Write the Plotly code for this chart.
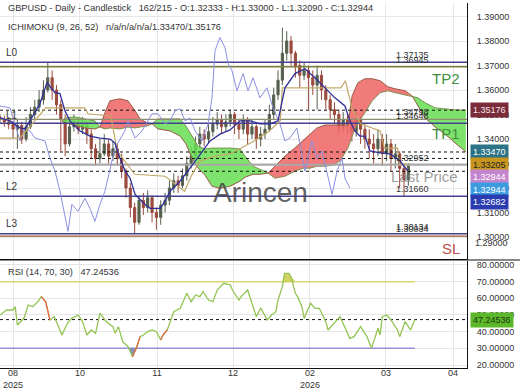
import plotly.graph_objects as go

# ---------------- data ----------------
bars = list(range(0, 189, 2))  # 95 daily candles (bar index)
closes = [1.3480, 1.3470, 1.3460, 1.3440, 1.3455, 1.3400, 1.3450, 1.3500, 1.3530, 1.3560,
          1.3600, 1.3650, 1.3600, 1.3540, 1.3480, 1.3380, 1.3450, 1.3470, 1.3440, 1.3460,
          1.3420, 1.3360, 1.3320, 1.3340, 1.3380, 1.3330, 1.3360, 1.3320, 1.3270, 1.3200,
          1.3120, 1.3060, 1.3150, 1.3120, 1.3160, 1.3100, 1.3080, 1.3130, 1.3150, 1.3200,
          1.3230, 1.3210, 1.3250, 1.3300, 1.3330, 1.3380, 1.3420, 1.3400, 1.3430, 1.3460,
          1.3480, 1.3450, 1.3470, 1.3500, 1.3460, 1.3440, 1.3480, 1.3420, 1.3450, 1.3400,
          1.3420, 1.3440, 1.3500, 1.3580, 1.3640, 1.3750, 1.3800, 1.3750, 1.3700, 1.3660,
          1.3680, 1.3650, 1.3620, 1.3660, 1.3600, 1.3560, 1.3520, 1.3500, 1.3450, 1.3480,
          1.3460, 1.3430, 1.3480, 1.3440, 1.3400, 1.3380, 1.3360, 1.3400, 1.3340, 1.3380,
          1.3320, 1.3340, 1.3280, 1.32333, 1.32944]
highs = [1.3500, 1.3495, 1.3490, 1.3475, 1.3480, 1.3470, 1.3490, 1.3530, 1.3560, 1.3600,
         1.3640, 1.3715, 1.3680, 1.3620, 1.3560, 1.3500, 1.3480, 1.3500, 1.3490, 1.3490,
         1.3470, 1.3440, 1.3380, 1.3400, 1.3420, 1.3400, 1.3390, 1.3380, 1.3340, 1.3280,
         1.3220, 1.3140, 1.3170, 1.3180, 1.3190, 1.3170, 1.3120, 1.3150, 1.3180, 1.3230,
         1.3260, 1.3250, 1.3280, 1.3330, 1.3370, 1.3410, 1.3450, 1.3440, 1.3460, 1.3490,
         1.3510, 1.3500, 1.3500, 1.3520, 1.3510, 1.3480, 1.3500, 1.3490, 1.3480, 1.3460,
         1.3450, 1.3480, 1.3540, 1.3610, 1.3680, 1.3855, 1.3840, 1.3820, 1.3760, 1.3720,
         1.3710, 1.3700, 1.3680, 1.3700, 1.3680, 1.3620, 1.3580, 1.3550, 1.3520, 1.3510,
         1.3500, 1.3480, 1.3510, 1.3490, 1.3460, 1.3440, 1.3420, 1.3440, 1.3420, 1.3420,
         1.3400, 1.3380, 1.3350, 1.3290, 1.33000]
lows = [1.3465, 1.3450, 1.3440, 1.3400, 1.3360, 1.3380, 1.3390, 1.3440, 1.3480, 1.3510,
        1.3540, 1.3590, 1.3560, 1.3500, 1.3350, 1.3330, 1.3370, 1.3430, 1.3420, 1.3420,
        1.3380, 1.3320, 1.3290, 1.3300, 1.3330, 1.3300, 1.3310, 1.3290, 1.3240, 1.3160,
        1.3080, 1.3012, 1.3050, 1.3090, 1.3100, 1.3060, 1.3030, 1.3050, 1.3100, 1.3130,
        1.3180, 1.3180, 1.3200, 1.3230, 1.3280, 1.3320, 1.3360, 1.3370, 1.3380, 1.3410,
        1.3440, 1.3420, 1.3430, 1.3450, 1.3420, 1.3400, 1.3420, 1.3380, 1.3400, 1.3360,
        1.3370, 1.3400, 1.3430, 1.3480, 1.3560, 1.3620, 1.3720, 1.3700, 1.3650, 1.3610,
        1.3640, 1.3520, 1.3580, 1.3520, 1.3560, 1.3520, 1.3480, 1.3460, 1.3420, 1.3430,
        1.3420, 1.3390, 1.3410, 1.3380, 1.3360, 1.3320, 1.3300, 1.3330, 1.3290, 1.3310,
        1.3270, 1.3280, 1.3200, 1.3166, 1.32090]
first_open = 1.3490

tenkan_x = [0, 4.6, 9.2, 11.5, 13.8, 18.4, 21.6, 25.3, 27.6, 29.9, 32.2, 36.8, 41.4, 46, 50.6,
            52.9, 55.2, 57.6, 59.9, 62.2, 66.8, 69.1, 73.7, 76, 78.3, 82.9, 87.5, 92.1, 96.7,
            101.3, 105.9, 110.5, 115.1, 119.7, 124.3, 128, 131.2, 135.8, 140.4, 145, 149.6,
            154.2, 158.8, 161.1, 163.4, 165.7, 168, 170.3, 175, 179.6, 184.2, 187.8]
tenkan = [1.3486, 1.3474, 1.3445, 1.3441, 1.3474, 1.3544, 1.3630, 1.3589, 1.3585, 1.3515,
          1.3474, 1.3433, 1.3412, 1.3404, 1.3400, 1.3384, 1.3322, 1.3269, 1.3240, 1.3174,
          1.3133, 1.3117, 1.3117, 1.3146, 1.3187, 1.3228, 1.3281, 1.3339, 1.3392, 1.3420,
          1.3437, 1.3474, 1.3474, 1.3462, 1.3462, 1.3474, 1.3609, 1.3667, 1.3687, 1.3650,
          1.3609, 1.3568, 1.3535, 1.3474, 1.3433, 1.3412, 1.3412, 1.3351, 1.3343, 1.3339,
          1.3310, 1.3269]

kijun_x = [0, 9, 14, 21, 39, 40.5, 51, 54, 62, 76, 85, 88, 92, 99, 106, 113, 117, 124, 129,
           130, 157, 159, 162, 166, 175, 177, 183, 184, 189]
kijun = [1.3404, 1.3404, 1.3453, 1.3527, 1.3527, 1.3503, 1.3494, 1.3351, 1.3256, 1.3248,
         1.3187, 1.3248, 1.3310, 1.3330, 1.3339, 1.3371, 1.3392, 1.3433, 1.3474, 1.3609,
         1.3609, 1.3638, 1.3527, 1.3462, 1.3433, 1.3363, 1.3363, 1.3298, 1.3298]

chikou_x = [0, 4.6, 6.9, 9.2, 11.5, 13.8, 16.1, 20.7, 23, 25.3, 27.6, 29.9, 31.3, 33.1, 35.9,
            39.1, 41.4, 43.7, 46, 48.3, 50.6, 52.9, 57.5, 58.9, 62.2, 65.4, 68.1, 70, 72.7,
            76, 78.3, 80.6, 82.9, 85.2, 87.5, 89.8, 93, 95.8, 97.6, 99, 101.3, 103.6, 105,
            106.8, 109.1, 111.9, 114.2, 116.5, 119.7, 122.9, 125.7, 128.9, 131.2, 133.5,
            136.7, 139, 140.4, 143.6, 145.9, 148.2, 150.5, 152.9, 155.2, 157.5, 158.8, 161.1]
chikou = [1.3535, 1.3527, 1.3462, 1.3392, 1.3445, 1.3433, 1.3404, 1.3392, 1.3322, 1.3269,
          1.3187, 1.3076, 1.3023, 1.3133, 1.3105, 1.3158, 1.3117, 1.3064, 1.3133, 1.3187,
          1.3269, 1.3363, 1.3433, 1.3474, 1.3404, 1.3433, 1.3474, 1.3503, 1.3503, 1.3462,
          1.3474, 1.3515, 1.3523, 1.3474, 1.3486, 1.3433, 1.3392, 1.3462, 1.3568, 1.3761,
          1.3814, 1.3773, 1.3707, 1.3679, 1.3597, 1.3667, 1.3597, 1.3650, 1.3568, 1.3609,
          1.3527, 1.3462, 1.3392, 1.3404, 1.3445, 1.3339, 1.3269, 1.3392, 1.3322, 1.3351,
          1.3269, 1.3174, 1.3269, 1.3322, 1.3240, 1.3199]

cloud_x = [28.5, 29.9, 34.5, 39.1, 43.7, 46, 48.3, 50.6, 55.2, 58.9, 62.2, 64.5, 67.7, 70,
           72.7, 78.3, 82.9, 85.6, 88.4, 91.2, 94.4, 97.6, 101.3, 105.9, 110.5, 112.8, 116.5,
           119.7, 123.4, 126.6, 131.2, 135.8, 139.5, 142.7, 145.9, 149.6, 153.3, 156.5, 160.2,
           162.1, 164.8, 168, 171.3, 175, 178.6, 181.9, 186.5, 189.7, 192.4, 195.7, 200.3,
           204.9, 209.5, 214.5]
span_a = [1.3474, 1.3486, 1.3490, 1.3482, 1.3474, 1.3449, 1.3441, 1.3445, 1.3441, 1.3449,
          1.3445, 1.3449, 1.3453, 1.3462, 1.3482, 1.3482, 1.3482, 1.3453, 1.3412, 1.3371,
          1.3359, 1.3363, 1.3363, 1.3363, 1.3359, 1.3330, 1.3289, 1.3277, 1.3261, 1.3240,
          1.3248, 1.3269, 1.3281, 1.3281, 1.3289, 1.3289, 1.3293, 1.3310, 1.3363, 1.3412,
          1.3466, 1.3507, 1.3556, 1.3589, 1.3597, 1.3589, 1.3580, 1.3576, 1.3568, 1.3548,
          1.3527, 1.3523, 1.3519, 1.3518]
span_b = [1.3474, 1.3466, 1.3457, 1.3445, 1.3441, 1.3449, 1.3507, 1.3556, 1.3564, 1.3556,
          1.3515, 1.3482, 1.3466, 1.3462, 1.3441, 1.3433, 1.3412, 1.3380, 1.3322, 1.3281,
          1.3252, 1.3207, 1.3199, 1.3207, 1.3228, 1.3244, 1.3256, 1.3256, 1.3261, 1.3289,
          1.3330, 1.3363, 1.3392, 1.3420, 1.3445, 1.3457, 1.3457, 1.3457, 1.3457, 1.3576,
          1.3630, 1.3646, 1.3646, 1.3638, 1.3613, 1.3605, 1.3597, 1.3576, 1.3535, 1.3486,
          1.3449, 1.3420, 1.3384, 1.3347]

rsi_x = [0, 3, 6, 7, 8, 11, 13, 15, 17.5, 19, 21, 23, 25, 28.5, 31, 33, 36, 38, 40, 42, 44,
         46, 49, 52, 53, 54.5, 56.5, 59, 61, 63, 64.5, 66, 68, 70, 72, 74, 75, 77, 80, 83, 86,
         88, 90, 92, 93.5, 96, 98, 100, 103, 106, 107, 110, 111, 114, 116, 118, 120, 121, 123,
         125, 127, 128, 130, 131, 133, 134, 136, 137, 139, 140, 143, 145, 147, 150, 151, 153,
         156.5, 159, 161, 163, 166, 169, 171, 173, 174, 175, 176, 178, 180, 183, 184, 186.5,
         189, 191]
rsi = [50, 53, 53, 55, 44, 48, 56, 55, 58, 61, 58, 47, 49, 38, 45, 48, 50, 46, 38, 41, 39,
       51, 46, 43, 39, 43, 34, 31, 25, 31, 37, 38, 40, 41, 40, 35, 38, 41, 52, 54, 63,
       58, 62, 61, 64, 59, 58, 65, 69, 68, 65, 59, 61, 65, 57, 49, 54, 52, 47,
       50, 52, 59, 67, 75, 75, 73, 63, 61, 55, 48, 57, 54, 54, 46, 41, 44,
       49, 42, 36, 37, 43, 37, 30, 38, 42, 38, 49, 50, 47, 41, 37, 46,
       41, 47.24536]
rsi_red_ranges = [(19, 23), (61, 64.5), (74, 77)]

# horizontal levels
navy_levels = [1.37135, 1.34648, 1.31660, 1.30134]
olive_levels = [1.36945]
greyolive_levels = [1.34798]
brown_levels = [1.30034]
grey_levels = [1.32952]
dashed_levels = [1.35176, 1.33470, 1.33205, 1.32682]
level_text_values = [1.37135, 1.36945, 1.34798, 1.34648, 1.32952, 1.31660, 1.30134, 1.30034]
zone_labels = [("L0", 1.3755), ("L1", 1.3494), ("L2", 1.3208), ("L3", 1.3057)]
axis_boxes = [(1.35176, "#7a2c3a", "#f4e4e8"), (1.33470, "#2b7385", "#ffffff"),
              (1.33205, "#c8961e", "#222222"), (1.32944, "#c485cf", "#ffffff"),
              (1.32944, "#3d9be0", "#ffffff"), (1.32682, "#2a3cb0", "#ffffff")]
rsi_now = 47.24536

tick_vals = [6, 36.8, 72.3, 107.3, 142.7, 177.7, 208.6]
tick_text = ["08<br>2025", "10", "11", "12", "02<br>2026", "03", "04"]

X_MAX = 215
P_RANGE = [1.29102, 1.39551]
R_RANGE = [18.2, 82.4]
FONT = "Liberation Sans, Arial, sans-serif"

# ---------------- figure ----------------
fig = go.Figure()

def hline(y, color, width=1, dash="solid", x1=X_MAX, xa="x", ya="y"):
    fig.add_trace(go.Scatter(x=[0, x1], y=[y, y], mode="lines", xaxis=xa, yaxis=ya,
                             line=dict(color=color, width=width, dash=dash),
                             hoverinfo="skip", showlegend=False))

# cloud segments
segs, cur = [], [0]
for k in range(1, len(cloud_x)):
    cur.append(k)
    if span_a[k] == span_b[k] and k != len(cloud_x) - 1:
        segs.append(cur)
        cur = [k]
segs.append(cur)
for s in segs:
    xs = [cloud_x[k] for k in s]
    a = [span_a[k] for k in s]
    b = [span_b[k] for k in s]
    green = sum(a) >= sum(b)
    col = "rgba(102,222,82,0.85)" if green else "rgba(238,100,100,0.85)"
    fig.add_trace(go.Scatter(x=xs + xs[::-1], y=a + b[::-1], fill="toself", fillcolor=col,
                             mode="lines", line=dict(width=0), hoverinfo="skip",
                             showlegend=False))
fig.add_trace(go.Scatter(x=cloud_x, y=span_a, mode="lines", line=dict(color="#7f8f4f", width=1),
                         hoverinfo="skip", showlegend=False))
fig.add_trace(go.Scatter(x=cloud_x, y=span_b, mode="lines", line=dict(color="#9c5a48", width=1),
                         hoverinfo="skip", showlegend=False))

# horizontal levels
for v in navy_levels:
    hline(v, "#45418f", 1.5)
for v in olive_levels:
    hline(v, "#7f7f3a", 1.5)
for v in greyolive_levels:
    hline(v, "#8d8d70", 1.2)
for v in brown_levels:
    hline(v, "#a0522d", 1.2)
for v in grey_levels:
    hline(v, "#a8a8a8", 2)
for v in dashed_levels:
    hline(v, "#111111", 1, "3px,3px")

# ichimoku lines
fig.add_trace(go.Scatter(x=chikou_x, y=chikou, mode="lines", line=dict(color="#8a8fe0", width=1),
                         hoverinfo="skip", showlegend=False))
fig.add_trace(go.Scatter(x=kijun_x, y=kijun, mode="lines", line=dict(color="#c2a867", width=1.2),
                         hoverinfo="skip", showlegend=False))
fig.add_trace(go.Scatter(x=tenkan_x, y=tenkan, mode="lines", line=dict(color="#2e2e9a", width=1.3),
                         hoverinfo="skip", showlegend=False))

# candles
opens = [first_open] + closes[:-1]
fig.add_trace(go.Candlestick(x=bars, open=opens, high=highs, low=lows, close=closes,
                             increasing=dict(line=dict(color="#55604d", width=1), fillcolor="#55604d"),
                             decreasing=dict(line=dict(color="#9b4a3c", width=1), fillcolor="#9b4a3c"),
                             whiskerwidth=0, hoverinfo="skip", showlegend=False))

# RSI panel
hline(70, "#d8d870", 1.5, x1=191, xa="x2", ya="y2")
hline(30, "#9a90d8", 1.5, x1=191, xa="x2", ya="y2")
hline(rsi_now, "#111111", 1, "3px,3px", xa="x2", ya="y2")
fig.add_trace(go.Scatter(x=rsi_x, y=[70] * len(rsi_x), mode="lines", line=dict(width=0),
                         xaxis="x2", yaxis="y2", hoverinfo="skip", showlegend=False))
fig.add_trace(go.Scatter(x=rsi_x, y=[max(v, 70) for v in rsi], mode="lines", line=dict(width=0),
                         fill="tonexty", fillcolor="rgba(200,200,60,0.8)",
                         xaxis="x2", yaxis="y2", hoverinfo="skip", showlegend=False))
fig.add_trace(go.Scatter(x=rsi_x, y=[30] * len(rsi_x), mode="lines", line=dict(width=0),
                         xaxis="x2", yaxis="y2", hoverinfo="skip", showlegend=False))
fig.add_trace(go.Scatter(x=rsi_x, y=[min(v, 30) for v in rsi], mode="lines", line=dict(width=0),
                         fill="tonexty", fillcolor="rgba(110,130,170,0.85)",
                         xaxis="x2", yaxis="y2", hoverinfo="skip", showlegend=False))
fig.add_trace(go.Scatter(x=rsi_x, y=rsi, mode="lines", line=dict(color="#93c452", width=1.3),
                         xaxis="x2", yaxis="y2", hoverinfo="skip", showlegend=False))
for a0, a1 in rsi_red_ranges:
    idx = [k for k, xv in enumerate(rsi_x) if a0 <= xv <= a1]
    fig.add_trace(go.Scatter(x=[rsi_x[k] for k in idx], y=[rsi[k] for k in idx], mode="lines",
                             line=dict(color="#e8684a", width=1.3), xaxis="x2", yaxis="y2",
                             hoverinfo="skip", showlegend=False))

# ---------------- annotations ----------------
ann = []
def text(x, y, s, size=9.2, color="#333333", xref="paper", yref="y", xanchor="left", **kw):
    ann.append(dict(x=x, y=y, xref=xref, yref=yref, text=s, showarrow=False, xanchor=xanchor,
                    font=dict(size=size, color=color, family=FONT), **kw))

text(0.013, 0.985, "GBPUSD - Daily - Candlestick&nbsp;&nbsp; 162/215 - O:1.32333 - H:1.33000 - L:1.32090 - C:1.32944",
     yref="paper", yanchor="middle")
text(0.013, 0.935, "ICHIMOKU (9, 26, 52)&nbsp;&nbsp; n/a/n/a/n/a/1.33470/1.35176",
     yref="paper", yanchor="middle")
text(0.013, 0.262, "RSI (14, 70, 30)&nbsp;&nbsp; 47.24536", yref="paper", yanchor="middle")
for lab, yv in zone_labels:
    text(0.008, yv, lab, size=10)
for v in level_text_values:
    text(189.7, v, f"{v:.5f}", size=9, xref="x", xanchor="center", yshift=7)
text(0.99, 1.3649, "TP2", size=15, color="#3e8e3e", xanchor="right")
text(0.99, 1.3424, "TP1", size=15, color="#3e8e3e", xanchor="right")
text(0.99, 1.2955, "SL", size=15, color="#c0504d", xanchor="right")
text(0.985, 1.3245, "Last Price", size=15, color="rgba(140,140,140,0.85)", xanchor="right")
text(119.7, 1.3180, "Arincen", size=28, color="rgba(70,70,70,0.85)", xref="x", xanchor="center")

# right axis value boxes with simple collision stacking
plot_h = 390 - 3 - 22
price_px = (1 - 0.2986) * plot_h / (P_RANGE[1] - P_RANGE[0])
prev = None
for v, bg, fg in axis_boxes:
    ypx = (P_RANGE[1] - v) * price_px
    if prev is not None and ypx < prev + 12.6:
        ypx = prev + 12.6
    shift = -(ypx - (P_RANGE[1] - v) * price_px)
    prev = ypx
    ann.append(dict(x=1, xref="paper", y=v, yref="y", xanchor="left", xshift=3, yshift=shift,
                    text=f"{v:.5f}", showarrow=False, bgcolor=bg, borderpad=2,
                    font=dict(size=9, color=fg, family=FONT)))
ann.append(dict(x=1, xref="paper", y=rsi_now, yref="y2", xanchor="left", xshift=3,
                text=f"{rsi_now:.5f}", showarrow=False, bgcolor="#5cb82a", borderpad=2,
                font=dict(size=9, color="#1a3a10", family=FONT)))
ann.append(dict(x=1, xref="paper", y=0.035, yref="y domain", xanchor="left", xshift=6,
                text="1.29000", showarrow=False, font=dict(size=9, color="#333333", family=FONT)))

axis_common = dict(showgrid=True, gridcolor="#e6e6e6", gridwidth=1, zeroline=False,
                   automargin=False, tickfont=dict(size=9, color="#333333", family=FONT))

fig.update_layout(
    width=520, height=390, margin=dict(l=0, r=53, t=3, b=22, autoexpand=False),
    paper_bgcolor="white", plot_bgcolor="white", showlegend=False,
    font=dict(family=FONT, size=9, color="#333333"),
    annotations=ann,
    xaxis=dict(domain=[0, 1], anchor="y", range=[0, X_MAX], tickvals=tick_vals,
               ticktext=tick_text, showticklabels=False, showline=True, linecolor="#111111",
               linewidth=1, rangeslider=dict(visible=False), **axis_common),
    yaxis=dict(domain=[0.2986, 1], anchor="x", side="right", range=P_RANGE, dtick=0.01,
               tick0=1.29, tickformat=".5f", showline=True, linecolor="#111111", linewidth=1,
               ticks="outside", ticklen=7, tickcolor="rgba(0,0,0,0)", **axis_common),
    xaxis2=dict(domain=[0, 1], anchor="y2", matches="x", range=[0, X_MAX], tickvals=tick_vals,
                ticktext=tick_text, showline=True, linecolor="#111111", linewidth=1,
                ticks="", ticklabelstandoff=-4, **axis_common),
    yaxis2=dict(domain=[0, 0.2932], anchor="x2", side="right", range=R_RANGE, dtick=10,
                tick0=0, tickformat=".5f", showline=True, linecolor="#111111", linewidth=1,
                ticks="outside", ticklen=7, tickcolor="rgba(0,0,0,0)", **axis_common),
    shapes=[dict(type="line", xref="paper", yref="paper", x0=0, x1=1.2, y0=0.2959, y1=0.2959,
                 line=dict(color="#111111", width=1))],
)

fig.write_html("out.html", config={"displayModeBar": False},
               post_script="document.body.style.margin='0';")
